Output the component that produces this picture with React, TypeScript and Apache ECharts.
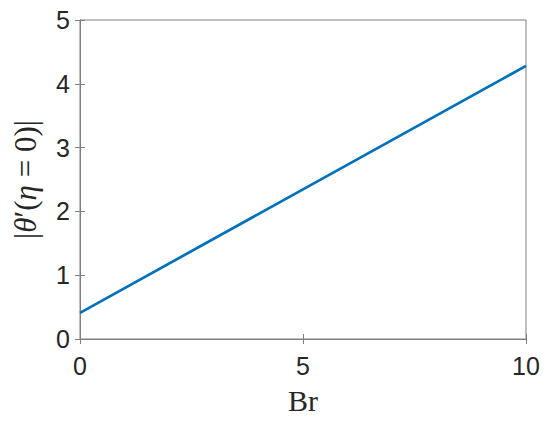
import React, { useEffect, useRef } from "react";
import * as echarts from "echarts";

const brValues = [0, 5, 10];
const thetaPrime = [0.41, 2.345, 4.28];
const xTicks = [0, 5, 10];
const yTicks = [0, 1, 2, 3, 4, 5];

export default function App() {
  const ref = useRef<HTMLDivElement>(null);
  useEffect(() => {
    if (!ref.current) return;
    const chart = echarts.init(ref.current, null, { renderer: "svg" });
    const axisGray = "#808080";
    const labelStyle = {
      fontFamily: "Liberation Sans, Arial, sans-serif",
      fontSize: 25,
      color: "#262626",
    };
    const serif = "Liberation Serif, 'Times New Roman', serif";
    const tickStyle = { show: true, inside: true, length: 5, lineStyle: { color: axisGray } };
    const lineStyle = { show: true, lineStyle: { color: axisGray, width: 1 } };
    chart.setOption({
      animation: false,
      backgroundColor: "#ffffff",
      grid: {
        left: 80,
        top: 20,
        right: 24,
        bottom: 83,
        show: true,
        borderColor: axisGray,
        borderWidth: 1,
        backgroundColor: "transparent",
      },
      xAxis: [
        {
          type: "value",
          min: 0,
          max: 10,
          interval: 5,
          position: "bottom",
          name: "Br",
          nameLocation: "middle",
          nameGap: 46,
          nameTextStyle: { fontFamily: serif, fontSize: 30, color: "#262626" },
          axisLine: lineStyle,
          axisTick: tickStyle,
          axisLabel: { ...labelStyle, margin: 14, formatter: (v: number) => (xTicks.includes(v) ? String(v) : "") },
          splitLine: { show: false },
        },
        {
          type: "value",
          min: 0,
          max: 10,
          interval: 5,
          position: "top",
          axisLine: lineStyle,
          axisTick: tickStyle,
          axisLabel: { show: false },
          splitLine: { show: false },
        },
      ],
      yAxis: [
        {
          type: "value",
          min: 0,
          max: 5,
          interval: 1,
          position: "left",
          name: "{p||}{i|θ}{p|′(}{i|η}{p| = 0)|}",
          nameLocation: "middle",
          nameRotate: 90,
          nameGap: 39,
          nameTextStyle: {
            rich: {
              p: { fontFamily: serif, fontSize: 31, color: "#262626" },
              i: { fontFamily: serif, fontSize: 31, fontStyle: "italic", color: "#262626" },
            },
          },
          axisLine: lineStyle,
          axisTick: tickStyle,
          axisLabel: { ...labelStyle, margin: 10, formatter: (v: number) => (yTicks.includes(v) ? String(v) : "") },
          splitLine: { show: false },
        },
        {
          type: "value",
          min: 0,
          max: 5,
          interval: 1,
          position: "right",
          axisLine: lineStyle,
          axisTick: tickStyle,
          axisLabel: { show: false },
          splitLine: { show: false },
        },
      ],
      series: [
        {
          type: "line",
          xAxisIndex: 0,
          yAxisIndex: 0,
          data: brValues.map((b, i) => [b, thetaPrime[i]]),
          showSymbol: false,
          symbol: "none",
          lineStyle: { color: "#0072BD", width: 2.7 },
        },
        {
          type: "line",
          xAxisIndex: 1,
          yAxisIndex: 1,
          data: [],
          showSymbol: false,
          symbol: "none",
          silent: true,
        },
      ],
    });
    return () => chart.dispose();
  }, []);
  return (
    <div
      ref={ref}
      style={{ position: "absolute", left: 0, top: 0, width: 550, height: 422 }}
    />
  );
}
